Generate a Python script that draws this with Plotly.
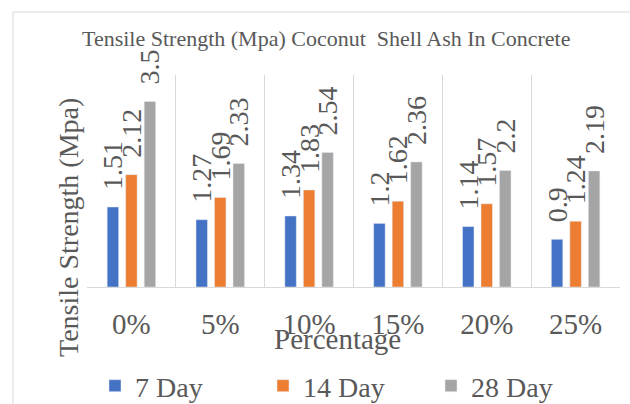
import plotly.graph_objects as go

categories = ["0%", "5%", "10%", "15%", "20%", "25%"]
day7 = [1.51, 1.27, 1.34, 1.2, 1.14, 0.9]
day14 = [2.12, 1.69, 1.83, 1.62, 1.57, 1.24]
day28 = [3.5, 2.33, 2.54, 2.36, 2.2, 2.19]
series_names = ["7 Day", "14 Day", "28 Day"]
colors = ["#4472C4", "#ED7D31", "#A5A5A5"]

FONT = "Liberation Serif, Times New Roman, Tinos, serif"
TXT = "#595959"

W, H = 630, 404
ML, MR, MT, MB = 87, 10, 75, 117
PW = W - ML - MR
PH = H - MT - MB

fig = go.Figure()
for name, vals, col in zip(series_names, [day7, day14, day28], colors):
    fig.add_trace(go.Bar(
        x=categories, y=vals, name=name, marker_color=col,
        text=[str(v) for v in vals],
        texttemplate="\u00a0\u00a0%{text}",
        textposition="outside", textangle=-90,
        constraintext="none", cliponaxis=False,
        textfont=dict(family=FONT, size=28, color=TXT),
        hoverinfo="skip",
    ))

def px_x(px):
    return (px - ML) / PW

def px_y(py):
    return (H - MB - py) / PH

fig.update_layout(
    width=W, height=H,
    margin=dict(l=ML, r=MR, t=MT, b=MB, autoexpand=False),
    paper_bgcolor="white", plot_bgcolor="white",
    barmode="group", bargap=0.375, bargroupgap=0.38,
    font=dict(family=FONT, color=TXT),
    showlegend=True,
    legend=dict(
        orientation="h", x=px_x(95), xanchor="left", y=px_y(386), yanchor="middle",
        font=dict(family=FONT, size=28, color=TXT),
        entrywidth=123, itemwidth=30, traceorder="normal",
        bgcolor="rgba(0,0,0,0)",
    ),
    xaxis=dict(
        type="category", showline=True, linecolor="#D9D9D9", linewidth=1,
        showgrid=True, gridcolor="#D9D9D9", tickson="boundaries",
        ticks="", ticklabelstandoff=11, automargin=False,
        tickfont=dict(family=FONT, size=29, color=TXT),
        zeroline=False, fixedrange=True,
    ),
    yaxis=dict(range=[0, 4], visible=False, showgrid=False, zeroline=False,
               automargin=False, fixedrange=True),
)

fig.add_annotation(
    text="Tensile Strength (Mpa) Coconut  Shell Ash In Concrete",
    xref="paper", yref="paper", x=px_x(326), y=px_y(38),
    xanchor="center", yanchor="middle", showarrow=False,
    font=dict(family=FONT, size=22, color=TXT),
)
fig.add_annotation(
    text="Percentage",
    xref="paper", yref="paper", x=px_x(337), y=px_y(339),
    xanchor="center", yanchor="middle", showarrow=False,
    font=dict(family=FONT, size=29, color=TXT),
)
fig.add_annotation(
    text="Tensile Strength (Mpa)", textangle=-90,
    xref="paper", yref="paper", x=px_x(68), y=px_y(228),
    xanchor="center", yanchor="middle", showarrow=False,
    font=dict(family=FONT, size=28, color=TXT),
)
fig.add_shape(
    type="rect", xref="paper", yref="paper",
    x0=px_x(13), y0=px_y(12), x1=px_x(W + 20), y1=px_y(H + 20),
    line=dict(color="#D9D9D9", width=1), fillcolor="rgba(0,0,0,0)", layer="below",
)

fig.write_html("out.html", config={"displayModeBar": False},
               post_script="document.body.style.margin='0';")
